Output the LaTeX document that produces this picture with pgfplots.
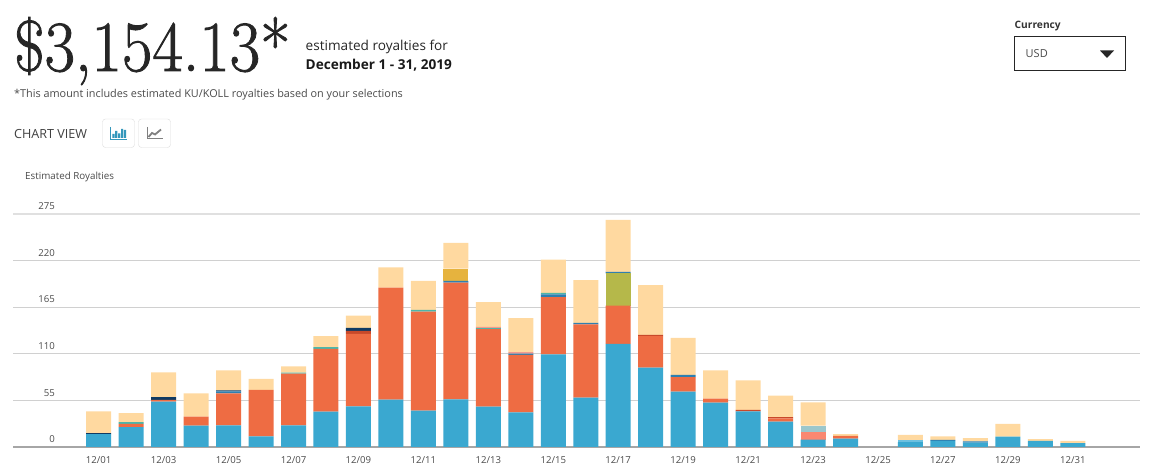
\documentclass[border=0pt]{standalone}
\usepackage{fontspec}
\setsansfont{Open Sans}
\usepackage{graphicx}
\usepackage{pgfplots}
\usepackage{pgfplotstable}
\pgfplotsset{compat=1.18}

\definecolor{cblue}{HTML}{3AA8D0}
\definecolor{corange}{HTML}{EE6C43}
\definecolor{cpeach}{HTML}{FFD9A0}
\definecolor{csalmon}{HTML}{FA8871}
\definecolor{cred}{HTML}{C8492A}
\definecolor{colive}{HTML}{B5B84A}
\definecolor{csteel}{HTML}{2F7FB0}
\definecolor{cnavy}{HTML}{0F3A63}
\definecolor{cteal}{HTML}{4FB5A8}
\definecolor{cpink}{HTML}{F29A8E}
\definecolor{cgold}{HTML}{E6B33E}
\definecolor{cpale}{HTML}{9CC7CC}
\definecolor{clight}{HTML}{6CC0E0}
\definecolor{cgrid}{HTML}{D0D0D0}
\definecolor{ctxt}{HTML}{4A4A4A}

% segment heights per day, stacking order left to right
\pgfplotstableread{
day blue orange salmon red olive steel navy teal pink gold pale light peach
1  15.3 0    0    0   0    0   1.2 0   0   0    0   0   25.6
2  23.6 3.6  0    0   0    0   0   2.3 0   0    0   0   10.6
3  53.5 2.0  0    0   0    0   3.5 0   0   0    0   0   29.2
4  25.2 10.6 0    0   0    0   0   0   0   0    0   0   27.6
5  25.6 37.8 0    0   0    2.2 1.3 0   0   0    0   0   23.6
6  12.6 54.7 0    0   0    0   0   0   0   0    0   0   13.0
7  25.6 61.0 0    0   0    0   0   1.2 0   0    0   0   7.4
8  41.7 74.0 0    0   0    0   0   2.3 0   0    0   0   13.0
9  48.0 85.4 0    3.6 0    0   3.5 0   0   0    0   0   14.5
10 55.9 132.1 0   0   0    0   0   0   0   0    0   0   24.0
11 42.9 116.9 0   0   0    0   0   1.9 0   0    0   0   34.3
12 56.3 137.7 0   0   0    2.0 0   0   0   14.5 0   0   30.5
13 47.6 91.4 0    0   0    0   0   1.2 1.5 0    0   0   29.3
14 41.0 67.6 0    0   0    1.6 0   0   1.8 0    0   0   40.0
15 109.4 67.6 0   0   0    3.0 0   2.0 0   0    0   0   39.0
16 58.2 86.6 0    0   0    1.6 0   0   0   0    0   0   50.6
17 121.6 45.3 0   0   38.1 1.6 0   0   0   0    0   0   61.4
18 93.7 37.3 0    1.2 0    0   0   0   0   0    0   0   58.8
19 65.3 17.3 0    0   0    2.4 0   0   0   0    0   0   43.7
20 52.3 4.7  0    0   0    0   0   0   0   0    0   0   33.5
21 42.1 0    0    1.6 0    0   0   0   0   0    0   0   35.0
22 29.9 3.9  0    1.6 0    0   0   0   0   0    0   0   25.2
23 8.7  0    9.4  0   0    0   0   0   0   0    7.1 0   27.5
24 9.8  3.2  0    0   0    0   0   0   0   0    0   0   2.3
25 0    0    0    0   0    0   0   0   0   0    0   0   0
26 5.9  0    0    0   0    0   0   0   0   0    0   2.4 5.9
27 7.1  0    0    0   0    1.2 0   0   0   0    0   0   4.3
28 5.1  0    0    0   0    1.6 0   0   0   0    0   0   3.9
29 12.2 0    0    0   0    0   0   0   0   0    0   0   15.0
30 7.1  0    0    0   0    0   0   0   0   0    0   0   2.3
31 4.7  0    0    0   0    0   0   0   0   0    0   0   2.4
}\royalties

\newcommand{\seg}[2]{\addplot[fill=#1,draw=none] table[x=day,y=#2] {\royalties};}

\begin{document}
\begin{tikzpicture}[x=1pt,y=1pt]
\path (0,0) rectangle (1150,468);

% header text
\node[anchor=base west,inner sep=0pt,text=black!85] at (14,397) {\scalebox{0.92}[1]{\fontsize{72}{72}\selectfont\special{pdf:code 2 Tr 0.9 w}\$3,154.13*\special{pdf:code 0 Tr}}};
\node[anchor=base west,inner sep=0pt,text=black!85] at (305.5,417) {\sffamily\fontsize{13.6}{14}\selectfont estimated royalties for};
\node[anchor=base west,inner sep=0pt,text=black!90] at (305.5,398) {\sffamily\bfseries\fontsize{13.6}{14}\selectfont December 1 - 31, 2019};
\node[anchor=base west,inner sep=0pt,text=ctxt] at (14,370) {\sffamily\fontsize{10.85}{11}\selectfont *This amount includes estimated KU/KOLL royalties based on your selections};
\node[anchor=base west,inner sep=0pt,text=black!75] at (14,329) {\sffamily\fontsize{12.6}{13}\selectfont CHART VIEW};
\node[anchor=base west,inner sep=0pt,text=ctxt] at (25,288) {\sffamily\fontsize{9.8}{10}\selectfont Estimated Royalties};

% chart type buttons
\draw[black!14,rounded corners=3pt] (102.5,320.5) rectangle (134.5,349);
\draw[black!14,rounded corners=3pt] (138.5,320.5) rectangle (170.5,349);
\draw[cblue!90!black,line width=0.9pt] (110.5,341) -- (110.5,329) -- (127,329);
\fill[cblue!90!black] (112.3,330) rectangle (114.5,334) (115.2,330) rectangle (117.4,337) (118.1,330) rectangle (120.3,334.5) (121,330) rectangle (123.2,339) (123.9,330) rectangle (126.1,338);
\draw[black!50,line width=1pt] (147,341) -- (147,329) -- (163,329);
\draw[black!50,line width=1.8pt] (148.5,331) -- (152,335) -- (155,333.5) -- (161,338.5);

% currency selector
\node[anchor=base west,inner sep=0pt,text=black!80] at (1014.5,439) {\sffamily\bfseries\fontsize{10.2}{10}\selectfont Currency};
\draw[black!85,line width=0.9pt] (1014.5,398) rectangle (1125.5,431.5);
\node[anchor=base west,inner sep=0pt,text=ctxt] at (1025.5,410) {\sffamily\fontsize{11}{11}\selectfont USD};
\fill[black!85] (1100,417.5) -- (1114,417.5) -- (1107,410) -- cycle;

\begin{axis}[
    at={(13pt,21pt)},anchor=south west,
    scale only axis,
    width=1127pt,height=233pt,
    ybar stacked,
    bar width=25pt,
    xmin=-1.639,xmax=33.07,
    ymin=0,ymax=275,
    axis line style={draw=none},
    clip=false,
    ytick={0,55,110,165,220,275},
    xtick={1,3,...,31},
    xticklabels={12/01,12/03,12/05,12/07,12/09,12/11,12/13,12/15,12/17,12/19,12/21,12/23,12/25,12/27,12/29,12/31},
    major tick length=0pt,
    ymajorgrids,
    major grid style={cgrid,line width=1.2pt},
    /pgf/number format/assume math mode=true,
    tick label style={text=ctxt,font=\sffamily\fontsize{9.6}{10}\selectfont},
    yticklabel style={anchor=south east,xshift=42pt,yshift=4pt,inner sep=0pt},
    xticklabel style={anchor=base,yshift=-16.5pt,inner sep=0pt},
]
\seg{cblue}{blue}
\seg{corange}{orange}
\seg{csalmon}{salmon}
\seg{cred}{red}
\seg{colive}{olive}
\seg{csteel}{steel}
\seg{cnavy}{navy}
\seg{cteal}{teal}
\seg{cpink}{pink}
\seg{cgold}{gold}
\seg{cpale}{pale}
\seg{clight}{light}
\seg{cpeach}{peach}
\draw[black!35,line width=1.8pt] (axis cs:-1.639,0) -- (axis cs:33.07,0);
\draw[black!12,line width=1.8pt] (axis cs:-1.639,275) -- (axis cs:33.07,275);
\end{axis}
\end{tikzpicture}
\end{document}
